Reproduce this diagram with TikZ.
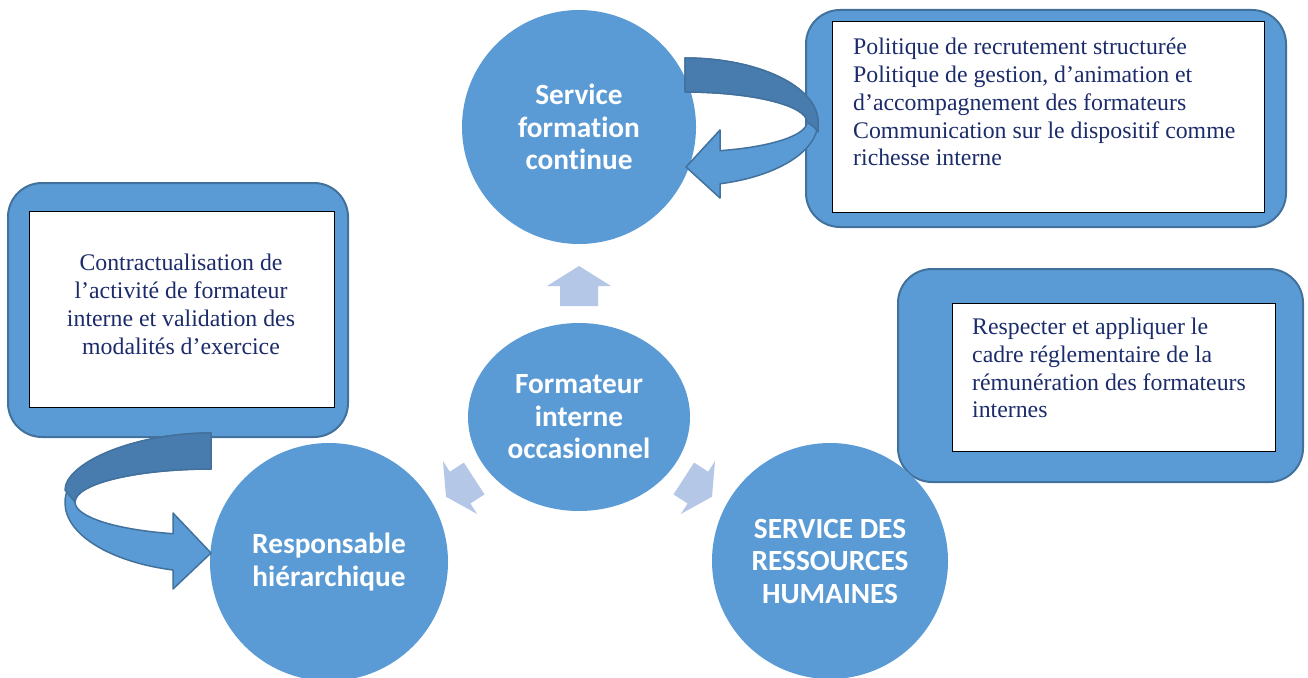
\documentclass[tikz,border=0pt]{standalone}
\usepackage{fontspec}
\setmainfont{Liberation Serif}
\newfontfamily\calibri[Ligatures=NoCommon]{Carlito}
\usetikzlibrary{shapes.geometric}
\definecolor{bluefill}{HTML}{5B9BD5}
\definecolor{blueline}{HTML}{41719C}
\definecolor{bluedark}{HTML}{487CAE}
\definecolor{lightarrow}{HTML}{B4C7E7}
\definecolor{navy}{HTML}{1C2C6B}
\begin{document}
\begin{tikzpicture}[x=1pt,y=-1pt,
  circ/.style={circle, fill=bluefill, draw=none, inner sep=0, text=white,
    font=\calibri\bfseries\fontsize{29.3}{32.5}\selectfont, align=center},
  outerbox/.style={rectangle, fill=bluefill, draw=blueline, line width=2pt, rounded corners=34pt, inner sep=0},
  innerbox/.style={rectangle, fill=white, draw=black, line width=1pt, inner sep=0},
  btext/.style={text=navy, font=\fontsize{23.8}{27.9}\selectfont, inner sep=0},
  smallarrow/.style={fill=lightarrow, draw=none},
  bandlight/.style={fill=bluefill, draw=blueline, line width=1.5pt, line join=round},
  banddark/.style={fill=bluedark, draw=blueline, line width=1.5pt, line join=round}]
\clip (0,0) rectangle (1308,677);
\fill[white] (0,0) rectangle (1308,677);

% boxes
\node[outerbox, minimum width=480pt, minimum height=217pt] (box1) at (1046,118.5) {};
\node[innerbox, minimum width=432pt, minimum height=190pt] (in1) at (1048,117) {};
\node[btext, align=left, anchor=west] (t1) at (853,102) {Politique de recrutement structurée\\Politique de gestion, d’animation et\\d’accompagnement des formateurs\\Communication sur le dispositif comme\\richesse interne};

\node[outerbox, minimum width=340pt, minimum height=254pt] (box2) at (178,310) {};
\node[innerbox, minimum width=305pt, minimum height=196pt] (in2) at (181.5,309) {};
\node[btext, align=center] (t2) at (181,304.5) {Contractualisation de\\l’activité de formateur\\interne et validation des\\modalités d’exercice};

\node[outerbox, minimum width=405pt, minimum height=213pt] (box3) at (1100.5,375.5) {};
\node[innerbox, minimum width=323pt, minimum height=148pt] (in3) at (1113.5,377) {};
\node[btext, align=left, anchor=west] (t3) at (972,368) {Respecter et appliquer le\\cadre réglementaire de la\\rémunération des formateurs\\internes};

% circles
\node[circ, minimum size=234pt] (sfc) at (579,127) {Service\\formation\\continue};
\node[circ, ellipse, minimum width=222pt, minimum height=188pt] (fio) at (579,417) {Formateur\\interne\\occasionnel};
\node[circ, minimum size=238pt] (rh) at (329,562) {Responsable\\hiérarchique};
\node[circ, minimum size=236pt] (srh) at (830,561) {SERVICE DES\\RESSOURCES\\HUMAINES};

% small arrows
\fill[smallarrow] (579,266) -- (611,286) -- (598,286) -- (598,306) -- (560,306) -- (560,286) -- (547,286) -- cycle;
\fill[smallarrow] (446,496.7) -- (477.2,514.0) -- (470.4,503.5) -- (484.5,494.4) -- (463.9,462.6) -- (449.8,471.7) -- (443.0,461.2) -- cycle;
\fill[smallarrow] (712,496.7) -- (680.8,514.0) -- (687.6,503.5) -- (673.5,494.4) -- (694.1,462.6) -- (708.2,471.7) -- (715,461.2) -- cycle;

% curved arrow top right
\draw[bandlight] (685,58) .. controls (758.4,58) and (818,86.7) .. (818,122) .. controls (818,150.9) and (777.9,176.2) .. (720,183.8) -- (720,198) -- (686,167) -- (720,130) -- (720,150.7) .. controls (771.5,146.9) and (807,135.2) .. (807,122) .. controls (807,105.4) and (752.3,92) .. (685,92) -- cycle;
\draw[banddark] (685,58) .. controls (758.4,58) and (818,86.7) .. (818,122) -- (818,132) .. controls (815,127) and (810,124) .. (807,122) .. controls (807,105.4) and (752.3,92) .. (685,92) -- cycle;

% curved arrow left
\draw[bandlight] (211,433) .. controls (130.4,433) and (65,464.2) .. (65,502.7) .. controls (65,534.1) and (109.4,561.8) .. (173,570) -- (173,589) -- (211,553) -- (173,513) -- (173,533.7) .. controls (114.9,529.6) and (75,516.7) .. (75,502) .. controls (75,483.8) and (135.9,469) .. (211,469) -- cycle;
\draw[banddark] (211,433) .. controls (130.4,433) and (65,464.2) .. (65,490) -- (75,502) .. controls (75,483.8) and (135.9,469) .. (211,469) -- cycle;
\end{tikzpicture}
\end{document}
